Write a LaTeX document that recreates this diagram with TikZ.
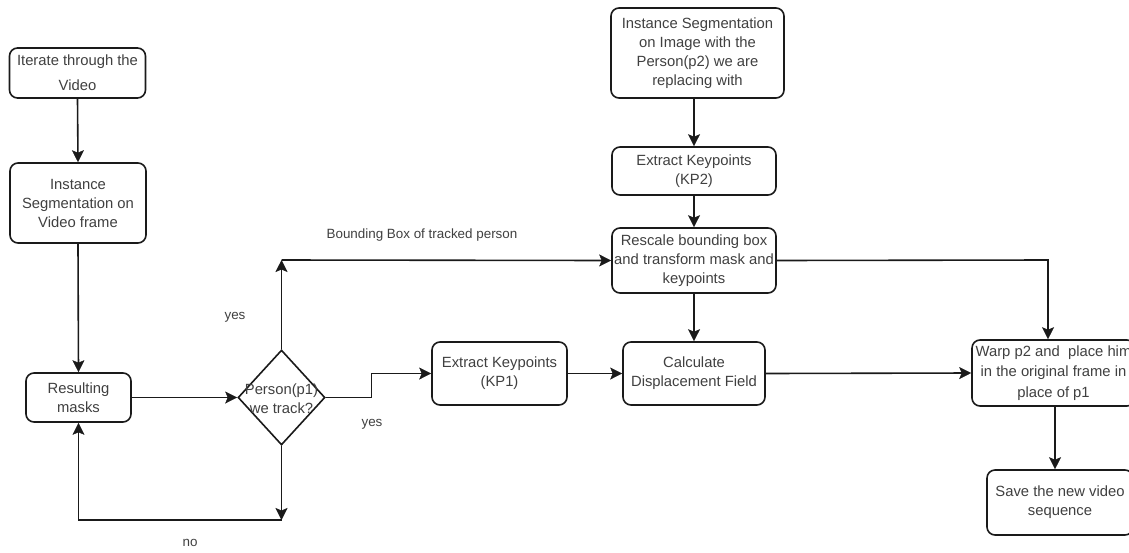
\documentclass[tikz,border=0pt]{standalone}
\usepackage{fontspec}
\setmainfont{Liberation Sans}
\usetikzlibrary{shapes.geometric,arrows.meta,calc}
\definecolor{txt}{HTML}{404040}
\definecolor{ln}{HTML}{1a1a1a}
\tikzset{
  box/.style={draw=ln, line width=1.6pt, rounded corners=8pt, align=center, inner sep=0pt,
    text=txt, font=\fontsize{14.8}{19}\selectfont},
  dia/.style={draw=ln, line width=1.6pt, diamond, inner sep=0pt},
  lbl/.style={text=txt, font=\fontsize{13.4}{16}\selectfont, inner sep=0pt},
  conn/.style={draw=ln, line width=1.6pt, -{Stealth[length=12pt,width=12pt,inset=2.5pt,line width=0.5pt]}}
}
\begin{document}
\begin{tikzpicture}[x=1pt,y=-1pt]
\useasboundingbox (0,0) rectangle (1129,552);
\clip (0,0) rectangle (1129,552);
\fill[white] (0,0) rectangle (1129,552);

\node[box, minimum width=136, minimum height=50, font=\fontsize{14.8}{25}\selectfont] (iter) at (77.5,73) {Iterate through the\\Video};
\node[box, minimum width=136, minimum height=80] (iseg) at (78,203) {Instance\\Segmentation on\\Video frame};
\node[box, minimum width=105, minimum height=49] (masks) at (78.5,397.5) {Resulting\\masks};
\node[dia, minimum width=87, minimum height=95] (dec) at (281.5,397.5) {};
\node[box, draw=none, fill=none] (dect) at (281.5,399) {Person(p1)\\we track?};
\node[box, minimum width=135, minimum height=63] (kp1) at (499.5,373.5) {Extract Keypoints\\(KP1)};
\node[box, minimum width=142, minimum height=63] (calc) at (694,373.5) {Calculate\\Displacement Field};
\node[box, minimum width=173, minimum height=90] (iimg) at (697.5,53) {Instance Segmentation\\on Image with the\\Person(p2) we are\\replacing with};
\node[box, minimum width=164, minimum height=48] (kp2) at (694,171) {Extract Keypoints\\(KP2)};
\node[box, minimum width=164, minimum height=65] (resc) at (694,260.5) {Rescale bounding box\\and transform mask and\\keypoints};
\node[box, minimum width=163, minimum height=66, font=\fontsize{14.8}{20.5}\selectfont] (warp) at (1053.5,373) {Warp p2 and\ \ place him\\in the original frame in\\place of p1};
\node[box, minimum width=146, minimum height=65] (save) at (1060,502.5) {Save the new video\\sequence};

\coordinate (c1) at (281.5,260);
\coordinate (c2) at (281.5,520);
\coordinate (c3) at (1048,260);
\coordinate (c4) at (1055,406);

\draw[conn] (iter.south) -- (iseg.north);
\draw[conn] (iseg.south) -- (masks.north);
\draw[conn] (masks.east) -- (dec.west);
\draw[conn] (dec.north) -- (c1);
\draw[conn] (c1) -- (resc.west);
\draw[conn] (dec.south) -- (c2);
\draw[conn] (c2) -| (masks.south);
\draw[conn] (dec.east) -- ++(45.5,0) |- (kp1.west);
\draw[conn] (kp1.east) -- (calc.west);
\draw[conn] (kp2.north |- iimg.south) -- (kp2.north);
\draw[conn] (kp2.south) -- (resc.north);
\draw[conn] (resc.south) -- (calc.north);
\draw[conn] (calc.east) -- (warp.west);
\draw[conn] (resc.east) -- (c3) -- (c3 |- warp.north);
\draw[conn] (c4) -- (c4 |- save.north);

\node[lbl] (l1) at (422,235) {Bounding Box of tracked person};
\node[lbl] (l2) at (235,317) {yes};
\node[lbl] (l3) at (372,424) {yes};
\node[lbl] (l4) at (190,543) {no};
\end{tikzpicture}
\end{document}
